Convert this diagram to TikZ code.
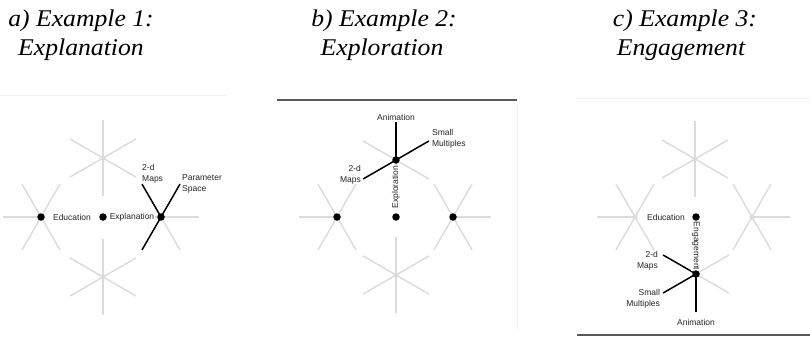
\documentclass[tikz,border=0pt]{standalone}
\usepackage{fontspec}
\setmainfont{Liberation Serif}
\setsansfont{Liberation Sans}
\newcommand{\wideT}[1]{\scalebox{1.07}[1]{#1}}
\begin{document}
\begin{tikzpicture}[x=1pt,y=-1pt,
  spoke/.style={draw=black!14,line width=1.4pt},
  act/.style={draw=black,line width=1.5pt},
  bdot/.style={circle,fill=black,inner sep=0pt,minimum size=7.5pt},
  gdot/.style={circle,fill=black!14,inner sep=0pt,minimum size=5pt},
  lab/.style={font=\sffamily\fontsize{8.5}{10.5}\selectfont,text=black!85,fill=white,inner sep=1pt},
  ttl/.style={font=\itshape\fontsize{24}{28}\selectfont,anchor=base,inner sep=0pt},
  frameline/.style={draw=black!65,line width=1.5pt},
  faint/.style={draw=black!5,line width=0.8pt}]
\useasboundingbox[fill=white] (0,0) rectangle (810,337);

% titles
\node[ttl] (ta1) at (81,27) {\wideT{a) Example 1:}};
\node[ttl] (ta2) at (81,56) {\wideT{Explanation}};
\node[ttl] (tb1) at (384,27) {\wideT{b) Example 2:}};
\node[ttl] (tb2) at (382,56) {\wideT{Exploration}};
\node[ttl] (tc1) at (685,27) {\wideT{c) Example 3:}};
\node[ttl] (tc2) at (681,56) {\wideT{Engagement}};

% frames
\draw[faint] (0,95) -- (227,95);
\draw[faint] (575,98) -- (810,98);
\draw[faint] (517,100) -- (517,330);
\draw[frameline] (277,100) -- (517,100);
\draw[frameline] (577,335) -- (810,335);

% star centres
\coordinate (aT) at (103,158);
\coordinate (aL) at (41,217);
\coordinate (aC) at (103,217);
\coordinate (aR) at (161,217);
\coordinate (aB) at (103,277);
\coordinate (bT) at (396,160);
\coordinate (bL) at (337,217);
\coordinate (bC) at (396,217);
\coordinate (bR) at (453,217);
\coordinate (bB) at (396,275);
\coordinate (cT) at (695,159);
\coordinate (cL) at (635,217);
\coordinate (cC) at (696,217);
\coordinate (cR) at (752,217);
\coordinate (cB) at (696,274);

% grey spokes
\foreach \s in {aT,aB,bB,cT} {
  \foreach \a in {30,90,150,210,270,330} \draw[spoke] (\s) -- ++(\a:38pt);
}
\foreach \s in {aL,bL,cL} {
  \foreach \a in {60,120,180,240,300} \draw[spoke] (\s) -- ++(\a:38pt);
}
\foreach \s in {bR,cR} {
  \foreach \a in {0,60,120,240,300} \draw[spoke] (\s) -- ++(\a:38pt);
}
\foreach \a in {0,180,300} \draw[spoke] (aR) -- ++(\a:38pt);
\foreach \a in {150,270,330} \draw[spoke] (bT) -- ++(\a:38pt);
\foreach \a in {30,90,330} \draw[spoke] (cB) -- ++(\a:38pt);

% active spokes, panel a
\path (aR) ++(120:38pt) coordinate (aMapsEnd);
\path (aR) ++(60:38pt) coordinate (aParEnd);
\path (aR) ++(240:38pt) coordinate (aLowEnd);
\draw[act] (aR) -- (aMapsEnd);
\draw[act] (aR) -- (aParEnd);
\draw[act] (aR) -- (aLowEnd);
% active spokes, panel b
\path (bT) ++(90:38pt) coordinate (bAniEnd);
\path (bT) ++(30:38pt) coordinate (bSmEnd);
\path (bT) ++(210:38pt) coordinate (bMapsEnd);
\draw[act] (bT) -- (bAniEnd);
\draw[act] (bT) -- (bSmEnd);
\draw[act] (bT) -- (bMapsEnd);
% active spokes, panel c
\path (cB) ++(150:38pt) coordinate (cMapsEnd);
\path (cB) ++(210:38pt) coordinate (cSmEnd);
\path (cB) ++(270:38pt) coordinate (cAniEnd);
\draw[act] (cB) -- (cMapsEnd);
\draw[act] (cB) -- (cSmEnd);
\draw[act] (cB) -- (cAniEnd);

% labels
\node[lab] (aEdu) at (72,217) {Education};
\node[lab] (aExp) at (132,217) {Explanation};
\node[lab,anchor=south west,align=left,inner sep=0pt] (aMaps) at ([yshift=1pt]aMapsEnd) {2-d\\Maps};
\node[lab,anchor=west,align=left,inner sep=0pt] (aPar) at ([xshift=2pt]aParEnd) {Parameter\\Space};

\node[lab,anchor=south,inner sep=1pt] (bAni) at (bAniEnd) {Animation};
\node[lab,anchor=west,align=left,inner sep=0pt] (bSm) at ([xshift=3pt,yshift=2pt]bSmEnd) {Small\\Multiples};
\node[lab,anchor=east,align=right,inner sep=0pt] (bMaps) at ([xshift=-2pt,yshift=4pt]bMapsEnd) {2-d\\Maps};
\node[lab,rotate=90] (bExp) at (396,187) {Exploration};

\node[lab] (cEdu) at (666,217) {Education};
\node[lab,rotate=-90] (cEng) at (696,246) {Engagement};
\node[lab,anchor=east,align=right,inner sep=0pt] (cMaps) at ([xshift=-5pt,yshift=-6pt]cMapsEnd) {2-d\\Maps};
\node[lab,anchor=east,align=right,inner sep=0pt] (cSm) at ([xshift=-3pt,yshift=-6pt]cSmEnd) {Small\\Multiples};
\node[lab,anchor=north,inner sep=1pt] (cAni) at ([yshift=-6pt]cAniEnd) {Animation};

% dots
\node[gdot] (aTd) at (aT) {};
\node[bdot] (aLd) at (aL) {};
\node[bdot] (aCd) at (aC) {};
\node[bdot] (aRd) at (aR) {};
\node[gdot] (aBd) at (aB) {};
\node[bdot] (bTd) at (bT) {};
\node[bdot] (bLd) at (bL) {};
\node[bdot] (bCd) at (bC) {};
\node[bdot] (bRd) at (bR) {};
\node[gdot] (bBd) at (bB) {};
\node[gdot] (cTd) at (cT) {};
\node[gdot] (cLd) at (cL) {};
\node[bdot] (cCd) at (cC) {};
\node[gdot] (cRd) at (cR) {};
\node[bdot] (cBd) at (cB) {};
\end{tikzpicture}
\end{document}
